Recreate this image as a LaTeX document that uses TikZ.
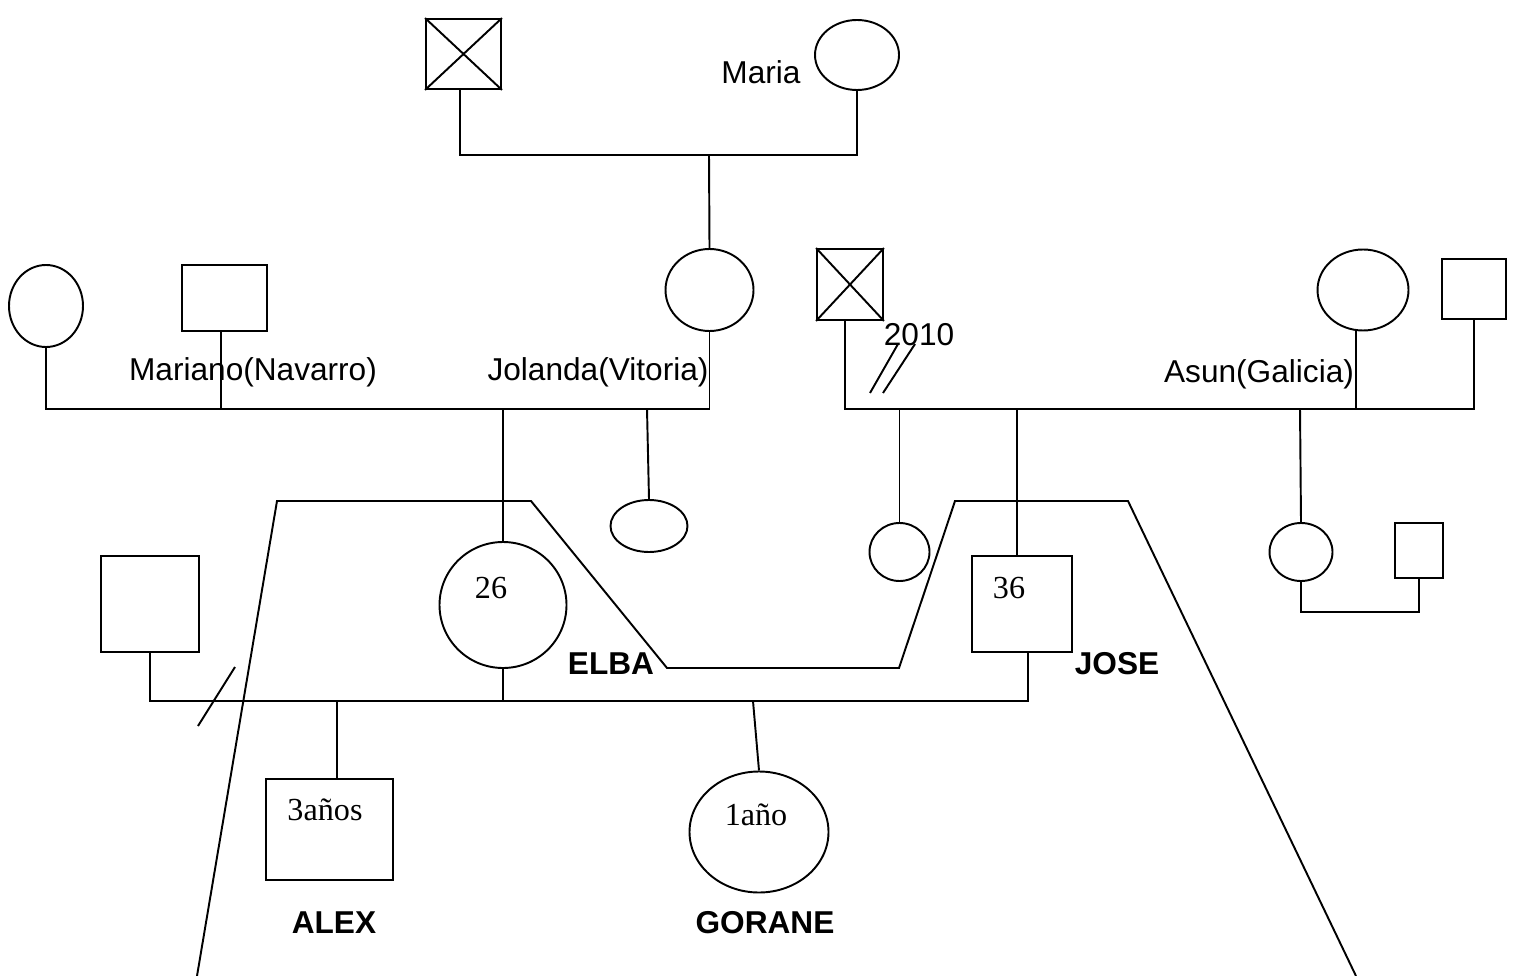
\documentclass[tikz,border=0pt]{standalone}
\usepackage{fontspec}
\setmainfont{Liberation Sans}
\newfontfamily\tnr{Liberation Serif}
\usetikzlibrary{shapes.geometric}
\begin{document}
\begin{tikzpicture}[x=0.02cm,y=-0.02cm,line width=1.1pt,
  sq/.style 2 args={draw,rectangle,inner sep=0pt,minimum width=#1*0.02cm,minimum height=#2*0.02cm},
  el/.style 2 args={draw,ellipse,inner sep=0pt,minimum width=#1*0.02cm,minimum height=#2*0.02cm},
  lbl/.style={anchor=base,inner sep=0pt,font=\fontsize{18}{21}\selectfont},
  blbl/.style={anchor=base,inner sep=0pt,font=\fontsize{18}{21}\selectfont\bfseries},
  age/.style={anchor=base,inner sep=0pt,font=\tnr\fontsize{18.3}{21}\selectfont}]
\useasboundingbox (0,0) rectangle (1517,976);
% generation 1
\node[sq={75}{70}] (gf) at (463.5,54) {};
\node[el={84}{70}] (gm) at (857,55) {};
% generation 2
\node[el={74}{82}] (lm) at (46,306) {};
\node[sq={85}{66}] (mar) at (224.5,298) {};
\node[el={88}{82}] (jol) at (709.5,290) {};
\node[sq={66}{71}] (x2) at (850,284.5) {};
\node[el={91}{81}] (asun) at (1363,290) {};
\node[sq={64}{60}] (rsq) at (1474,289) {};
% generation 3
\node[el={77}{52}] (sib1) at (649,526) {};
\node[el={60}{58}] (sib2) at (899.5,552) {};
\node[sq={100}{96}] (jose) at (1022,604) {};
\node[el={63}{58}] (rc) at (1301,552) {};
\node[sq={48}{55}] (rs) at (1419,550.5) {};
\node[el={127}{126}] (elba) at (503,605) {};
\node[sq={98}{96}] (ex) at (150,604) {};
% generation 4
\node[sq={127}{101}] (alex) at (329.5,829.5) {};
\node[el={139}{121}] (gor) at (759,832) {};
% crosses
\draw (gf.north west) -- (gf.south east) (gf.north east) -- (gf.south west);
\draw (x2.north west) -- (x2.south east) (x2.north east) -- (x2.south west);
% coordinates
\coordinate (c1) at (709,155);
\coordinate (gfd) at (460,155);
\coordinate (bar) at (0,409);
\coordinate (mb) at (0,701);
\coordinate (md) at (221,409);
\coordinate (d1) at (647,409);
\coordinate (x2d) at (845,409);
\coordinate (asd) at (1356,409);
\coordinate (jd) at (1017,409);
\coordinate (rd) at (1300,409);
\coordinate (rcb) at (1360,612);
\coordinate (jb) at (1028,701);
\coordinate (ald) at (337,701);
\coordinate (gd) at (753,701);
\coordinate (s1a) at (235,667);
\coordinate (s1b) at (198,726);
\coordinate (s2a) at (898,344);
\coordinate (s2b) at (870,393);
\coordinate (s3a) at (915,344);
\coordinate (s3b) at (883,393);
\coordinate (t1) at (197,976);
\coordinate (t2) at (277,501);
\coordinate (t3) at (531,501);
\coordinate (t4) at (667,668);
\coordinate (t5) at (899,668);
\coordinate (t6) at (955,501);
\coordinate (t7) at (1128,501);
\coordinate (t8) at (1356,976);
% connectors
\draw (gfd |- gf.south) -- (gfd) -- (c1) -| (gm.south);
\draw (c1) -- (jol.north);
\draw (lm.south) -- (lm.south |- bar) -- (jol.south |- bar) -- (jol.south);
\draw (md |- mar.south) -- (md);
\draw (elba.north |- bar) -- (elba.north);
\draw (d1) -- (sib1.north);
\draw (x2d |- x2.south) -- (x2d) -- (rsq.south |- bar) -- (rsq.south);
\draw (asd |- asun.south) -- (asd);
\draw (sib2.north |- bar) -- (sib2.north);
\draw (jd) -- (jd |- jose.north);
\draw (rd) -- (rc.north);
\draw (rc.south) |- (rcb) -| (rs.south);
\draw (ex.south) -- (ex.south |- mb) -- (jb) -- (jb |- jose.south);
\draw (elba.south) -- (elba.south |- mb);
\draw (ald) -- (ald |- alex.north);
\draw (gd) -- (gor.north);
\draw (s1a) -- (s1b);
\draw (s2a) -- (s2b);
\draw (s3a) -- (s3b);
\draw[line join=miter] (t1) -- (t2) -- (t3) -- (t4) -- (t5) -- (t6) -- (t7) -- (t8);
% labels
\node[lbl] (lmaria) at (761,84) {Maria};
\node[lbl] (lmar) at (253,380) {Mariano(Navarro)};
\node[lbl] (ljol) at (598,380) {Jolanda(Vitoria)};
\node[lbl] (lasun) at (1259,382) {Asun(Galicia)};
\node[lbl] (l2010) at (919,345) {2010};
\node[blbl] (lelba) at (611,674) {ELBA};
\node[blbl] (ljose) at (1117,674) {JOSE};
\node[blbl] (lalex) at (334,933) {ALEX};
\node[blbl] (lgor) at (765,933) {GORANE};
\node[age] (a26) at (491,598) {26};
\node[age] (a36) at (1009,598) {36};
\node[age] (a3) at (325,820) {3años};
\node[age] (a1) at (756,825) {1año};
\end{tikzpicture}
\end{document}
